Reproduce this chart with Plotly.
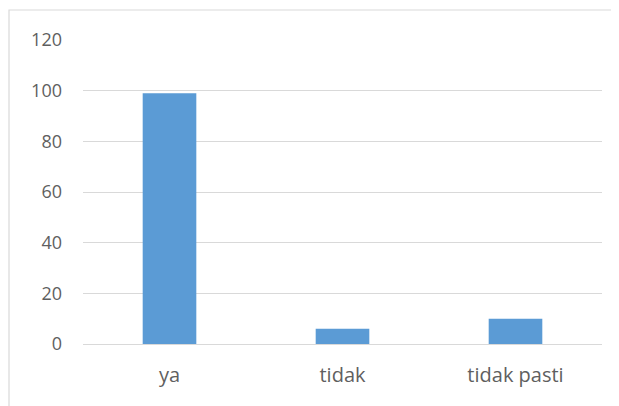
import plotly.graph_objects as go

categories = ["ya", "tidak", "tidak pasti"]
values = [99, 6, 10]
y_ticks = [0, 20, 40, 60, 80, 100, 120]

# the page body adds an 8px offset, so the figure is sized to fit
OFF = 8
W, H = 619 - OFF, 406 - OFF
L, R, T, B = 83 - OFF, 17, 40 - OFF, 62
pw, ph = W - L - R, H - T - B

fig = go.Figure(go.Bar(
    x=categories, y=values,
    marker=dict(color="#5B9BD5", line=dict(width=0)),
    width=0.31,
))

def px_x(x):
    return (x - OFF - L) / pw

def px_y(y):
    return (H - B - (y - OFF)) / ph

fig.add_shape(type="rect", xref="paper", yref="paper",
              x0=px_x(9), x1=px_x(617), y0=px_y(430), y1=px_y(10),
              line=dict(color="#D9D9D9", width=1.2), fillcolor="rgba(0,0,0,0)",
              layer="below")

xfont = dict(family="Open Sans", size=20, color="#5F5F5F")
yfont = dict(family="Open Sans", size=18, color="#5F5F5F")
fig.update_layout(
    width=W, height=H,
    margin=dict(l=L, r=R, t=T, b=B, pad=0),
    paper_bgcolor="white", plot_bgcolor="white",
    showlegend=False,
    font=xfont,
    xaxis=dict(showgrid=False, showline=False, zeroline=False,
               ticks="", tickfont=xfont, ticklabelstandoff=17),
    yaxis=dict(range=[0, 120], tickvals=y_ticks, showgrid=True,
               gridcolor="#D9D9D9", gridwidth=1, zeroline=True,
               zerolinecolor="#D9D9D9", zerolinewidth=1, showline=False,
               ticks="", tickfont=yfont, ticklabelstandoff=20),
)

fig.write_html("out.html")
